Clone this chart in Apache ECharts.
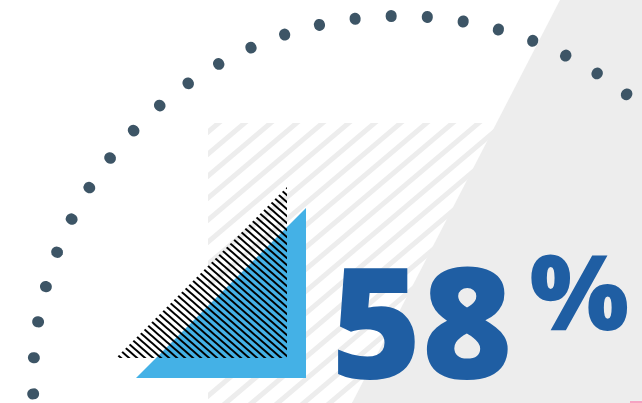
<!DOCTYPE html>
<html>
<head>
<meta charset="utf-8">
<script src="https://cdn.jsdelivr.net/npm/echarts@6/dist/echarts.min.js"></script>
<style>
  html, body { margin: 0; padding: 0; background: #ffffff; }
  #main { width: 642px; height: 403px; }
</style>
</head>
<body>
<div id="main"></div>
<script>
var share = [58];          // headline value, %
var dotCount = [33];       // dots on the arc (incl. off-canvas tail)
var arcStart = [181.7];    // angle of first dot, degrees
var arcStep = [5.645];     // angle between dots, degrees

var chart = echarts.init(document.getElementById('main'));

// diagonal stripe tile: w x h repeats exactly for lines of slope h/w
function stripeTile(w, h, color, lineW, up) {
  var c = document.createElement('canvas');
  c.width = w;
  c.height = h;
  var ctx = c.getContext('2d');
  ctx.strokeStyle = color;
  ctx.lineWidth = lineW;
  for (var k = -3; k <= 3; k++) {
    ctx.beginPath();
    if (up) {
      ctx.moveTo(-w, k * h + h);
      ctx.lineTo(2 * w, k * h - 2 * h);
    } else {
      ctx.moveTo(-w, k * h - h);
      ctx.lineTo(2 * w, k * h + 2 * h);
    }
    ctx.stroke();
  }
  return { image: c, repeat: 'repeat' };
}

var blue = '#1f5ea3';

var option = {
  animation: false,
  backgroundColor: '#ffffff',
  graphic: [
    { // light stripes block
      type: 'rect', z: 0,
      shape: { x: 208, y: 123, width: 320, height: 290 },
      style: { fill: stripeTile(26, 22, '#ededed', 5, true) }
    },
    { // grey slanted panel
      type: 'polygon', z: 0,
      shape: { points: [[560, 0], [642, 0], [642, 403], [352, 403]] },
      style: { fill: '#ededed' }
    },
    { // pink corner sliver
      type: 'rect', z: 0,
      shape: { x: 630, y: 401, width: 12, height: 2 },
      style: { fill: '#f7a3c2' }
    },
    { // blue triangle
      type: 'polygon', z: 1,
      shape: { points: [[136, 378], [306, 378], [306, 208]] },
      style: { fill: '#44b1e6' }
    },
    { // black hatched triangle
      type: 'polygon', z: 1,
      shape: { points: [[116, 358], [287, 187], [287, 358]] },
      style: { fill: stripeTile(8, 7, '#000000', 2, false) }
    }
  ],
  series: [{
    type: 'gauge',
    center: [400, 383],
    radius: 367.5,
    min: 0,
    max: 100,
    startAngle: arcStart[0],
    endAngle: arcStart[0] - arcStep[0] * (dotCount[0] - 1),
    splitNumber: dotCount[0] - 1,
    axisLine: { show: false, lineStyle: { width: 0 } },
    progress: { show: false },
    pointer: { show: false },
    anchor: { show: false },
    axisTick: { show: false },
    axisLabel: { show: false },
    splitLine: {
      show: true,
      length: 1,
      distance: 0,
      lineStyle: { color: '#3d5566', width: 11, cap: 'round' }
    },
    title: { show: false },
    detail: {
      offsetCenter: [80, -58],
      width: 320,
      padding: 0,
      formatter: '{num|{value}}{pct|%}',
      rich: {
        num: {
          fontFamily: 'Open Sans', fontWeight: 800, fontSize: 155,
          lineHeight: 155, color: blue, verticalAlign: 'top', padding: [9, 0, 0, 0]
        },
        pct: {
          fontFamily: 'Open Sans', fontWeight: 800, fontSize: 105,
          lineHeight: 105, color: blue, verticalAlign: 'top', padding: [0, 0, 0, 17]
        }
      }
    },
    data: [{ value: share[0] }]
  }]
};

chart.setOption(option);
</script>
</body>
</html>
